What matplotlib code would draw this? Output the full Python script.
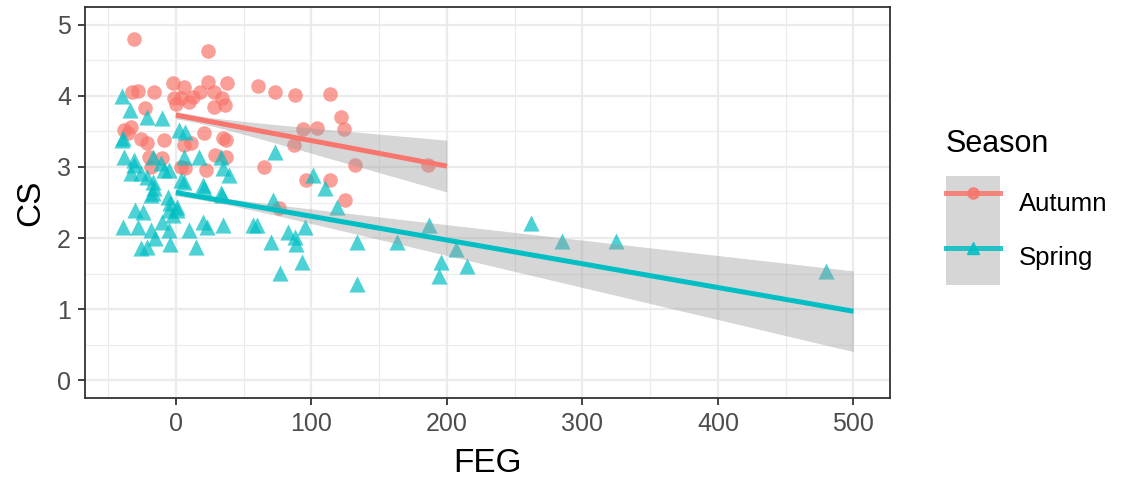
import numpy as np
import matplotlib
matplotlib.use("Agg")
import matplotlib.pyplot as plt
from matplotlib.patches import Patch
from matplotlib.lines import Line2D
from matplotlib.legend_handler import HandlerTuple

plt.rcParams['font.family'] = ['Liberation Sans', 'DejaVu Sans']

# points (FEG, CS)
autumn_feg = [-31, 24, -32, -28, -16, -2, 6, 24, 38, 61, 73, 88, 114,
              -1, 4, 13, 18, 28, 34, 36, 28, -23, 0, 10, -33, -38,
              122, 124, 94, 104, 87, 65, 132, 96, 114, 125, 76, 186,
              -35, -21, -9, -10, 4, 7, 21, 35, 37, 29, 37, 22, 6, 11,
              -20, -18, -26]
autumn_cs = [4.80, 4.63, 4.05, 4.07, 4.05, 4.18, 4.12, 4.19, 4.18, 4.14, 4.05, 4.01, 4.03,
             3.97, 3.97, 3.98, 4.05, 4.05, 3.97, 3.87, 3.84, 3.83, 3.88, 3.92, 3.56, 3.52,
             3.70, 3.53, 3.53, 3.55, 3.31, 3.00, 3.03, 2.82, 2.82, 2.54, 2.42, 3.03,
             3.48, 3.34, 3.38, 3.13, 3.00, 2.98, 3.48, 3.41, 3.38, 3.17, 3.14, 2.96, 3.31, 3.34,
             3.14, 3.00, 3.40]

spring_feg = [-40, -34, -21, -10, 2, 7, -39, -40, -38, -31, -31, -17, -11, -9, -5,
              6, 17, 33, 35, 39, 73, -26, -33, -21, -17, 4, 6, 20, 21, 33, 34,
              101, 110, 72, 119, -16, -17, -6, -18, -24, -4, -5, 1, -2, 1,
              -39, -28, -18, -5, 10, 23, 20, 35, 57, 60, -21, -26, -15, -4, 15,
              70, 83, 88, 95, 89, 93, 77, 134, 134, 163, 187, 196, 194, 207, 215,
              262, 285, 325, 480, -10, -30]
spring_cs = [4.00, 3.80, 3.70, 3.69, 3.52, 3.49, 3.41, 3.38, 3.14, 3.10, 3.03, 3.14, 3.06, 2.96, 2.96,
             3.14, 3.14, 3.14, 2.99, 2.89, 3.21, 2.92, 2.92, 2.86, 2.79, 2.82, 2.79, 2.75, 2.71, 2.64, 2.61,
             2.89, 2.71, 2.54, 2.44, 2.70, 2.64, 2.58, 2.61, 2.36, 2.50, 2.40, 2.43, 2.33, 2.40,
             2.16, 2.15, 2.12, 2.12, 2.12, 2.15, 2.22, 2.19, 2.19, 2.19, 1.88, 1.86, 2.00, 1.91, 1.87,
             1.95, 2.09, 2.02, 2.16, 1.91, 1.67, 1.51, 1.94, 1.35, 1.95, 2.19, 1.67, 1.46, 1.84, 1.60,
             2.21, 1.96, 1.96, 1.54, 2.23, 2.40]

# linear fits: x range, intercept, slope, band (h0, k, centre)
autumn_fit_range = [0, 200]
autumn_fit_coef = [3.73, -0.00359]
autumn_band = [0.05, 0.0019, 10]
spring_fit_range = [0, 500]
spring_fit_coef = [2.64, -0.00334]
spring_band = [0.04, 0.00118, 20]

seasons = ['Autumn', 'Spring']
colors = {'Autumn': '#F8766D', 'Spring': '#00BFC4'}
markers = {'Autumn': 'o', 'Spring': '^'}

W, H = 1125, 479
fig = plt.figure(figsize=(W / 100, H / 100), dpi=100)
ax = fig.add_axes([85 / W, 1 - 398 / H, (890 - 85) / W, (398 - 7) / H])

ax.scatter(autumn_feg, autumn_cs, s=110, marker='o', color=colors['Autumn'],
           alpha=0.7, linewidths=0, zorder=2)
ax.scatter(spring_feg, spring_cs, s=135, marker='^', color=colors['Spring'],
           alpha=0.7, linewidths=0, zorder=2)


def draw_fit(rng, coef, band, color):
    xs = np.linspace(rng[0], rng[1], 80)
    ys = coef[0] + coef[1] * xs
    half = np.sqrt(band[0] ** 2 + (band[1] * (xs - band[2])) ** 2)
    ax.fill_between(xs, ys - half, ys + half, color='#999999', alpha=0.4,
                    linewidth=0, zorder=3)
    ax.plot(xs, ys, color=color, lw=3.6, zorder=4, solid_capstyle='butt')


draw_fit(autumn_fit_range, autumn_fit_coef, autumn_band, colors['Autumn'])
draw_fit(spring_fit_range, spring_fit_coef, spring_band, colors['Spring'])

ax.set_xlim(-67, 527)
ax.set_ylim(-0.25, 5.25)
ax.set_xticks([0, 100, 200, 300, 400, 500])
ax.set_xticks([-50, 50, 150, 250, 350, 450], minor=True)
ax.set_yticks([0, 1, 2, 3, 4, 5])
ax.set_yticks([0.5, 1.5, 2.5, 3.5, 4.5], minor=True)
ax.grid(True, which='major', color='#EBEBEB', lw=1.6, zorder=0)
ax.grid(True, which='minor', color='#EBEBEB', lw=0.8, zorder=0)
ax.set_axisbelow(True)
ax.tick_params(which='major', length=5, width=1.3, color='#333333',
               labelsize=18, labelcolor='#4D4D4D', pad=5)
ax.tick_params(which='minor', length=0)
for sp in ax.spines.values():
    sp.set_color('#333333')
    sp.set_linewidth(1.3)

ax.set_xlabel('FEG', fontsize=24, labelpad=9)
ax.set_ylabel('CS', fontsize=24, labelpad=8)

handles = []
for s in seasons:
    handles.append((Patch(facecolor='#999999', alpha=0.4, edgecolor='none'),
                    Line2D([], [], color=colors[s], lw=3.6, marker=markers[s],
                           markersize=8, alpha=0.85)))
leg = fig.legend(handles, seasons, handler_map={tuple: HandlerTuple(ndivide=1, pad=0)},
                 loc='upper left', bbox_to_anchor=(946 / W, 1 - 129 / H),
                 bbox_transform=fig.transFigure, frameon=False, fontsize=18.5,
                 title='Season', title_fontsize=22, alignment='left',
                 handlelength=2.1, handleheight=2.9, labelspacing=0,
                 handletextpad=0.72, borderpad=0, borderaxespad=0)
leg._legend_box.sep = 12

fig.savefig('out.png', dpi=100)
